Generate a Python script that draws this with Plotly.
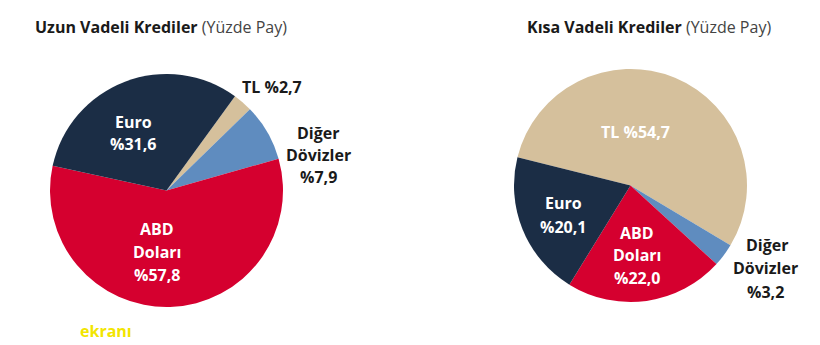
import plotly.graph_objects as go

# Data
categories = ["TL", "Diğer Dövizler", "ABD Doları", "Euro"]
uzun_vadeli = [2.7, 7.9, 57.8, 31.6]
kisa_vadeli = [54.7, 3.2, 22.0, 20.1]
colors = ["#d5c09c", "#5f8cbf", "#d5002f", "#1b2d45"]

def fmt(v):
    return "%" + f"{v:.1f}".replace(".", ",")

W, H = 820, 345
FONT = "Open Sans"

fig = go.Figure()
fig.add_trace(go.Pie(
    labels=categories, values=uzun_vadeli, sort=False, direction="clockwise",
    rotation=36, marker=dict(colors=colors, line=dict(width=0)),
    textinfo="none", hoverinfo="label+percent", showlegend=False,
    domain=dict(x=[50 / W, 283 / W], y=[1 - 307 / H, 1 - 74 / H]),
))
fig.add_trace(go.Pie(
    labels=categories, values=kisa_vadeli, sort=False, direction="clockwise",
    rotation=284, marker=dict(colors=colors, line=dict(width=0)),
    textinfo="none", hoverinfo="label+percent", showlegend=False,
    domain=dict(x=[514 / W, 747 / W], y=[1 - 302 / H, 1 - 69 / H]),
))

ann = []

def px(x, y, text, color, size=16, bold=True, xanchor="center"):
    t = f"<b>{text}</b>" if bold else text
    ann.append(dict(x=x / W, y=1 - y / H, xref="paper", yref="paper", text=t,
                    showarrow=False, xanchor=xanchor, yanchor="middle",
                    font=dict(family=FONT, size=size, color=color)))

# Titles
px(33, 27, "<b>Uzun Vadeli Krediler</b> <span style='color:#444'>(Yüzde Pay)</span>", "#1a1a1a", size=16, bold=False, xanchor="left")
px(525, 27, "<b>Kısa Vadeli Krediler</b> <span style='color:#444'>(Yüzde Pay)</span>", "#1a1a1a", size=16, bold=False, xanchor="left")

WHITE, DARK = "#ffffff", "#1a1a1a"
u = dict(zip(categories, uzun_vadeli))
k = dict(zip(categories, kisa_vadeli))

# Left pie labels
px(133, 122, "Euro", WHITE); px(133, 144, fmt(u["Euro"]), WHITE)
px(157, 229, "ABD", WHITE); px(157, 252, "Doları", WHITE); px(157, 275, fmt(u["ABD Doları"]), WHITE)
px(272, 87, "TL " + fmt(u["TL"]), DARK)
px(318, 133, "Diğer", DARK); px(318, 155, "Dövizler", DARK); px(318, 177, fmt(u["Diğer Dövizler"]), DARK)

# Right pie labels
px(635, 132, "TL " + fmt(k["TL"]), WHITE)
px(563, 203, "Euro", WHITE); px(563, 227, fmt(k["Euro"]), WHITE)
px(637, 233, "ABD", WHITE); px(637, 255, "Doları", WHITE); px(637, 278, fmt(k["ABD Doları"]), WHITE)
px(767, 245, "Diğer", DARK); px(765, 268, "Dövizler", DARK); px(765, 292, fmt(k["Diğer Dövizler"]), DARK)

# Watermark
px(78, 331, "ekranı", "#f2e500", size=16, bold=True, xanchor="left")

fig.update_layout(
    width=W, height=H, margin=dict(l=0, r=0, t=0, b=0),
    paper_bgcolor="white", plot_bgcolor="white",
    annotations=ann, font=dict(family=FONT),
)
fig.write_html("out.html")
